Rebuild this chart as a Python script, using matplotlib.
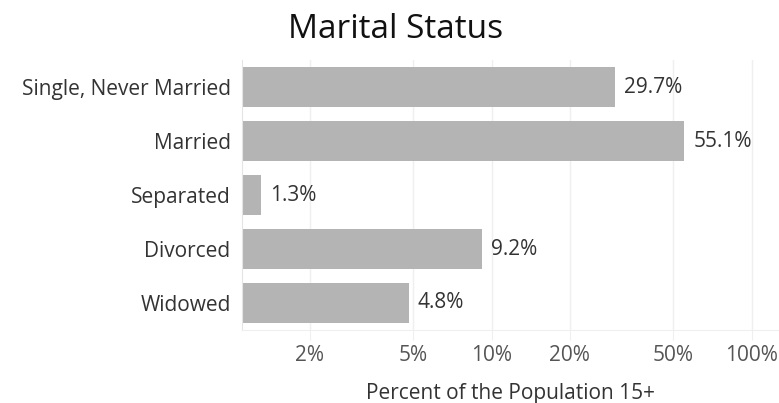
import numpy as np
import matplotlib
matplotlib.use("Agg")
import matplotlib.pyplot as plt

plt.rcParams["font.family"] = ["Open Sans", "DejaVu Sans"]

categories = ["Single, Never Married", "Married", "Separated", "Divorced", "Widowed"]
percents = [29.7, 55.1, 1.3, 9.2, 4.8]
xticks = [2, 5, 10, 20, 50, 100]
xtick_labels = ["2%", "5%", "10%", "20%", "50%", "100%"]

bar_color = "#b4b4b4"
text_color = "#333333"
grid_color = "#efefef"

fig = plt.figure(figsize=(7.79, 4.03), dpi=100)
ax = fig.add_axes([241.7 / 779, 73 / 403, 1 - 241.7 / 779, 270 / 403])

y = np.arange(len(categories))
left = 1.093
ax.barh(y, np.array(percents) - left, left=left, height=0.74, color=bar_color, zorder=2)

ax.set_xscale("log")
ax.set_xlim(left, 127.4)
ax.set_ylim(len(categories) - 0.5, -0.5)

ax.set_yticks(y)
ax.set_yticklabels(categories, fontsize=15, color=text_color)
ax.set_xticks(xticks)
ax.set_xticklabels(xtick_labels, fontsize=15, color="#555555")
ax.xaxis.set_minor_locator(matplotlib.ticker.NullLocator())

ax.tick_params(axis="y", length=0, pad=8)
ax.tick_params(axis="x", length=7, color=grid_color, pad=4)

ax.grid(axis="x", color=grid_color, lw=1, zorder=0)
ax.set_axisbelow(True)
for s in ["top", "right"]:
    ax.spines[s].set_visible(False)
ax.spines["left"].set_color("#e4e4e4")
ax.spines["bottom"].set_color(grid_color)

for yi, v in zip(y, percents):
    ax.annotate(f"{v}%", (v, yi), xytext=(6.5, 0), textcoords="offset points",
                va="center", ha="left", fontsize=15, color=text_color)

ax.set_xlabel("Percent of the Population 15+", fontsize=15, color=text_color, labelpad=12)
fig.text(0.508, 0.926, "Marital Status", ha="center", va="center", fontsize=24, color="#111111")

fig.savefig("out.png", dpi=100)
